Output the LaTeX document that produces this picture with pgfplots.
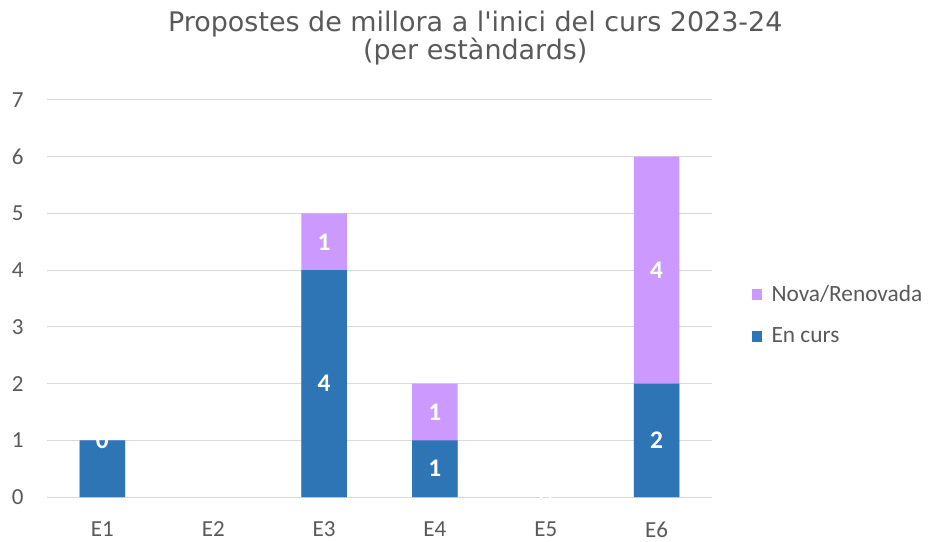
\documentclass[border=0pt]{standalone}
\usepackage{pgfplots}
\pgfplotsset{compat=1.18}
\usepackage{fontspec}
\setmainfont{Carlito}
\newfontfamily\titlefont{DejaVu Sans}
\definecolor{encurs}{HTML}{2E75B6}
\definecolor{nova}{HTML}{CC99FF}
\definecolor{txt}{HTML}{595959}
\definecolor{gridgray}{HTML}{D9D9D9}
\begin{document}
\begin{tikzpicture}[x=1pt,y=1pt]
\begin{axis}[
  name=ax,
  scale only axis,
  width=498.75pt, height=297.75pt,
  xmin=-0.5, xmax=5.5, ymin=0, ymax=7,
  ybar, bar width=0.41, bar shift=0pt,
  xtick={0,1,2,3,4,5},
  xticklabels={E1,E2,E3,E4,E5,E6},
  ytick={0,1,...,7},
  xmajorgrids=false,
  ymajorgrids, grid style={draw=gridgray, line width=0.75pt},
  axis line style={draw=none},
  major tick length=0pt,
  tick style={draw=none},
  tick label style={font=\fontsize{17.25}{20}\selectfont, text=txt},
  /pgf/number format/assume math mode=true,
  yticklabel style={xshift=-14pt},
  xticklabel style={yshift=-15pt},
  title={Propostes de millora a l'inici del curs 2023-24\\(per estàndards)},
  title style={at={(0.644,1.137)}, anchor=center, align=center, text=txt, font=\titlefont\fontsize{20.2}{21}\selectfont},
  legend style={at={(1.053,0.458)}, anchor=west, draw=none, fill=none,
    font=\fontsize{17.5}{20}\selectfont, text=txt, row sep=14pt,
    /tikz/every odd column/.append style={column sep=5pt}},
  legend cell align=left,
  legend image code/.code={\fill[#1] (0pt,-4pt) rectangle (8pt,4pt);},
  clip=false,
]
\addplot[fill=nova, draw=none] coordinates {(0,1) (2,5) (3,2) (5,6)};
\addlegendentry{Nova/Renovada}
\addplot[fill=encurs, draw=none] coordinates {(0,1) (2,4) (3,1) (5,2)};
\addlegendentry{En curs}
\addplot[only marks, mark=none, forget plot, nodes near coords, point meta=explicit symbolic,
  every node near coord/.style={anchor=center, text=white, font=\bfseries\fontsize{19}{22}\selectfont}]
  coordinates {(0,1)[0] (2,2)[4] (2,4.5)[1] (3,0.5)[1] (3,1.5)[1] (4,0)[0] (5,1)[2] (5,4)[4]};
\end{axis}
\path[use as bounding box] ([xshift=-35.25pt, yshift=-33pt]ax.south west) rectangle ([xshift=165.75pt, yshift=75pt]ax.north east);
\end{tikzpicture}
\end{document}
